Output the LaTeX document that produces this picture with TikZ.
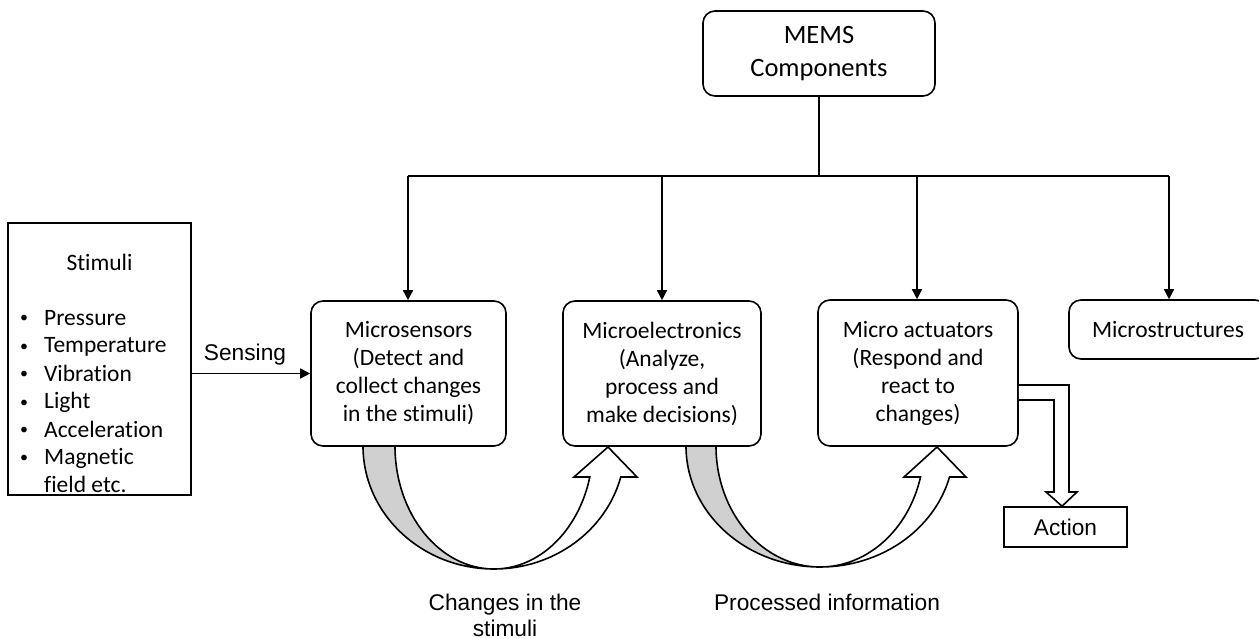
\documentclass[tikz,border=0pt]{standalone}
\usepackage{fontspec}
\setmainfont{Carlito}[Ligatures=NoCommon]
\newfontfamily\labelfont{Liberation Sans}
\usetikzlibrary{arrows.meta,calc}

\definecolor{bandgrey}{RGB}{208,208,208}
\newcommand{\smallbullet}{{\fontsize{16}{16}\selectfont\raisebox{2pt}{\textbullet}}}

\tikzset{
  boxtext/.style={font=\fontsize{23.5}{28}\selectfont, align=center},
  rbox/.style={draw, line width=1.6pt, rounded corners=12pt, fill=white, boxtext},
  sqbox/.style={draw, line width=1.6pt, fill=white},
  lbl/.style={font=\labelfont\fontsize{22.7}{26}\selectfont, align=center},
  link/.style={line width=1.6pt},
  arr/.style={line width=1.6pt, -{Triangle[length=10pt,width=10pt]}},
  band/.style={line width=1.6pt, fill=bandgrey, line join=round},
  hollow/.style={line width=1.6pt, fill=white, line join=miter},
}

\begin{document}
\begin{tikzpicture}[x=1pt,y=1pt]
\useasboundingbox (0,0) rectangle (1259,-639);

% centres of the two curved arrows (on the bottom edge of the boxes)
\coordinate (c1) at (494,-446);
\coordinate (c2) at (820,-446);

% curved arrow: microsensors -> microelectronics
\draw[band] ($(c1)+(-131pt,0)$) arc[start angle=180,end angle=270,x radius=131pt,y radius=123pt]
  arc[start angle=270,end angle=180,x radius=99pt,y radius=123pt] -- cycle;
\draw[hollow] ($(c1)+(0,-123pt)$) arc[start angle=270,end angle=345.4,x radius=131pt,y radius=123pt]
  -- (637,-477) -- (608,-447) -- (574,-477) -- ($(c1)+(345.4:99pt and 123pt)$)
  arc[start angle=345.4,end angle=270,x radius=99pt,y radius=123pt] -- cycle;

% curved arrow: microelectronics -> micro actuators
\draw[band] ($(c2)+(-134pt,0)$) arc[start angle=180,end angle=270,x radius=134pt,y radius=121pt]
  arc[start angle=270,end angle=180,x radius=104pt,y radius=121pt] -- cycle;
\draw[hollow] ($(c2)+(0,-121pt)$) arc[start angle=270,end angle=345.16,x radius=134pt,y radius=121pt]
  -- (966,-477) -- (937,-447) -- (904,-477) -- ($(c2)+(345.16:104pt and 121pt)$)
  arc[start angle=345.16,end angle=270,x radius=104pt,y radius=121pt] -- cycle;

% boxes
\node[rbox, minimum width=232pt, minimum height=85pt, font=\fontsize{26.5}{33}\selectfont] (mems) at (819,-53.5) {MEMS\\Components};
\node[rbox, minimum width=195pt, minimum height=145pt] (ms) at (408.5,-373.5) {Microsensors\\(Detect and\\collect changes\\in the stimuli)};
\node[rbox, minimum width=198pt, minimum height=145pt] (me) at (662,-373.5) {Microelectronics\\(Analyze,\\process and\\make decisions)};
\node[rbox, minimum width=200pt, minimum height=146pt] (ma) at (918,-373) {Micro actuators\\(Respond and\\react to\\changes)};
\node[rbox, minimum width=198pt, minimum height=59pt] (mst) at (1168,-329.5) {Microstructures};
\node[sqbox, minimum width=183pt, minimum height=272pt] (stim) at (99.5,-359) {};
\node[sqbox, lbl, minimum width=123pt, minimum height=40pt] (act) at (1065.5,-527) {Action};

% stimuli contents
\node[boxtext] (stimtitle) at (99.5,-262) {Stimuli};
\node[anchor=base west, inner sep=0pt, font=\fontsize{23.5}{28}\selectfont] (stimlist) at (20,-325)
  {\begin{tabular}[t]{@{}l@{\hspace{16pt}}l@{}}
   \smallbullet & Pressure\\
   \smallbullet & Temperature\\
   \smallbullet & Vibration\\
   \smallbullet & Light\\
   \smallbullet & Acceleration\\
   \smallbullet & Magnetic\\
                & field etc.
   \end{tabular}};

% tree from MEMS Components
\coordinate (busL) at (408,-176);
\coordinate (busR) at (1169,-176);
\draw[link] (busL) -- (busR);
\draw[link] (mems.south) -- (mems.south |- busL);
\draw[arr] (busL) -- (busL |- ms.north);
\draw[arr] (busL -| me.north) -- (me.north);
\draw[arr] (busL -| 917,0) -- (917,0 |- ma.north);
\draw[arr] (busR) -- (busR |- mst.north);

% sensing
\draw[arr] (stim.east |- ms.west) -- (ms.west);
\node[lbl] (sensing) at (245,-355) {Sensing};

% hollow arrow to action
\draw[hollow] (ma.east |- 0,-385) -- (1069,-385) -- (1069,-492) -- (1077,-492)
  -- (act.north -| 1062,0) -- (1046,-492) -- (1054,-492) -- (1054,-400) -- (ma.east |- 0,-400);

% bottom labels
\node[lbl] (lab1) at (505,-615) {Changes in the\\stimuli};
\node[lbl] (lab2) at (827,-602) {Processed information};
\end{tikzpicture}
\end{document}
